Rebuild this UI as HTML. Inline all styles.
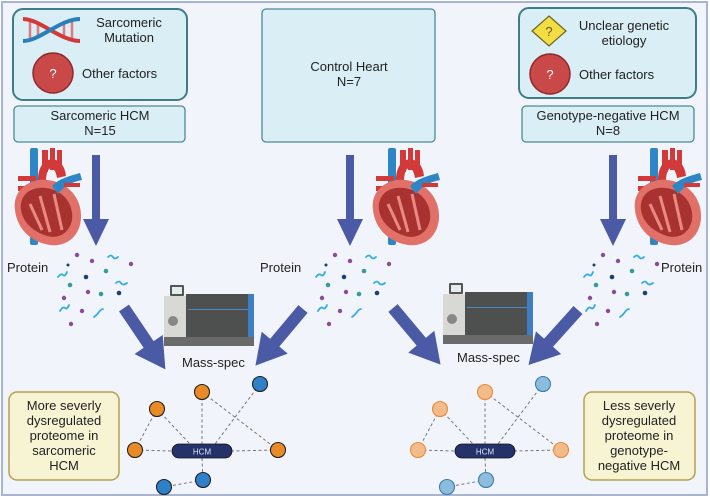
<!DOCTYPE html>
<html><head><meta charset="utf-8"><style>
html,body{margin:0;padding:0;background:#fff}
svg{display:block}
text{font-family:"Liberation Sans",sans-serif;fill:#222}
</style></head><body>
<svg width="710" height="498" viewBox="0 0 710 498" xmlns="http://www.w3.org/2000/svg">
<defs>
<g id="heart">
  <rect x="18" y="0" width="8" height="97" rx="2" fill="#2f86c7"/>
  <rect x="6" y="28" width="18" height="5" fill="#d23a3a"/>
  <rect x="6" y="38" width="18" height="5" fill="#d23a3a"/>
  <path d="M26 32 C26 5 52 5 54 28 L45 30 C43 16 34 16 34 34Z" fill="#d23a3a"/>
  <rect x="30" y="2" width="6" height="22" fill="#d23a3a"/>
  <rect x="38" y="0" width="5" height="22" fill="#d23a3a"/>
  <rect x="45" y="2" width="5" height="20" fill="#d23a3a"/>
  <path d="M3 62 C0 42 18 30 35 32 C56 34 70 50 69 70 C68 88 55 99 38 97 C18 94 5 80 3 62Z" fill="#e07068"/>
  <path d="M9 62 C7 46 20 38 34 40 C51 42 62 56 60 72 C57 86 46 91 35 88 C20 83 11 74 9 62Z" fill="#a8322f"/>
  <path d="M28 48 L38 84 M42 46 L50 82 M18 56 L30 82" stroke="#e88a80" stroke-width="3"/>
  <path d="M40 38 C48 30 58 28 68 25 L70 32 C60 34 52 38 46 46Z" fill="#2f86c7"/>
  <rect x="52" y="35" width="16" height="4" fill="#d23a3a"/>
</g>
<g id="prot">
  <g fill="#8a4b9a"><circle cx="19" cy="2" r="2.2"/><circle cx="34" cy="8" r="2.2"/><circle cx="73" cy="11" r="2.2"/><circle cx="30" cy="39" r="2.2"/><circle cx="6" cy="45" r="2.2"/><circle cx="24" cy="58" r="2.2"/><circle cx="13" cy="71" r="2.2"/></g>
  <g fill="#1e3f73"><circle cx="10" cy="12" r="1.5"/><circle cx="28" cy="24" r="2.3"/><circle cx="61" cy="40" r="2.3"/></g>
  <g fill="#3a9a9a"><circle cx="48" cy="18" r="2.3"/><circle cx="12" cy="32" r="2.3"/><circle cx="43" cy="41" r="2.3"/></g>
  <g fill="none" stroke="#33aee0" stroke-width="1.8" stroke-linecap="round">
    <path d="M50 4 q3 -3 5 0 t5 0"/><path d="M0 24 q3 -4 5 -2 t4 -3"/><path d="M58 30 q3 -3 5 0 t6 0"/><path d="M2 58 q3 -5 5 -3 t4 -3"/><path d="M36 64 q3 -2 5 -5 t4 -3"/>
  </g>
</g>
<g id="ms">
  <rect x="6" y="0" width="14" height="11" rx="1" fill="#555"/>
  <rect x="8" y="2" width="10" height="7" fill="#e5ecec"/>
  <rect x="0" y="11" width="24" height="46" fill="#d8d8d4"/>
  <circle cx="9" cy="36" r="5" fill="#888"/>
  <rect x="22" y="9" width="68" height="47" fill="#4e5050"/>
  <rect x="84" y="9" width="6" height="47" fill="#3d7fc2"/>
  <rect x="24" y="24" width="60" height="1" fill="#4a8ac0"/>
  <rect x="0" y="52" width="90" height="9" fill="#6a6a6a"/>
</g>
<g id="arrowV"><rect x="-4" y="0" width="8" height="66" fill="#4a5aa5"/><path d="M-13 64 L13 64 L0 91Z" fill="#4a5aa5"/></g>
<g id="arrowD"><rect x="-6" y="0" width="12" height="46" fill="#4a5aa5"/><path d="M-17 44 L17 44 L0 74Z" fill="#4a5aa5"/></g>
</defs>
<rect x="0" y="0" width="710" height="498" fill="#fff"/>
<rect x="2" y="2" width="705" height="493" fill="#f1f5fb" stroke="#a8b4d4" stroke-width="2"/>

<rect x="13" y="9" width="174" height="91" rx="10" fill="#d9eef5" stroke="#3f7c89" stroke-width="2"/>
<rect x="14" y="106" width="171" height="36" rx="4" fill="#d9eef5" stroke="#4b8a96" stroke-width="1.3"/>
<rect x="262" y="9" width="173" height="133" rx="4" fill="#d9eef5" stroke="#4b8a96" stroke-width="1.3"/>
<rect x="519" y="8" width="177" height="90" rx="10" fill="#d9eef5" stroke="#3f7c89" stroke-width="2"/>
<rect x="522" y="106" width="172" height="36" rx="4" fill="#d9eef5" stroke="#4b8a96" stroke-width="1.3"/>

<g stroke="#e07a80" stroke-width="2.5"><path d="M30 22 V38 M38 24 V36 M64 24 V36 M72 22 V38"/></g>
<path d="M23 19 C40 19 60 41 80 41" stroke="#d23a3a" stroke-width="4" fill="none"/>
<path d="M23 41 C40 41 60 19 80 19" stroke="#2b7fb8" stroke-width="4" fill="none"/>
<text x="129" y="27" font-size="13" text-anchor="middle">Sarcomeric</text>
<text x="129" y="42" font-size="13" text-anchor="middle">Mutation</text>
<circle cx="53" cy="73" r="20" fill="#c94848" stroke="#8f2a2a" stroke-width="1.5"/>
<text x="53" y="78" font-size="13" text-anchor="middle" style="fill:#fff">?</text>
<text x="82" y="78" font-size="13">Other factors</text>
<text x="100" y="120" font-size="13" text-anchor="middle">Sarcomeric HCM</text>
<text x="100" y="135" font-size="13" text-anchor="middle">N=15</text>
<text x="349" y="71" font-size="13" text-anchor="middle">Control Heart</text>
<text x="349" y="86" font-size="13" text-anchor="middle">N=7</text>
<path d="M549 16 L566 31 L549 46 L532 31Z" fill="#f2dd45" stroke="#6b6420" stroke-width="1.2"/>
<text x="549" y="36" font-size="13" text-anchor="middle" style="fill:#6b5a10">?</text>
<text x="624" y="30" font-size="13" text-anchor="middle">Unclear genetic</text>
<text x="624" y="45" font-size="13" text-anchor="middle">etiology</text>
<circle cx="550" cy="74" r="20" fill="#c94848" stroke="#8f2a2a" stroke-width="1.5"/>
<text x="550" y="79" font-size="13" text-anchor="middle" style="fill:#fff">?</text>
<text x="579" y="79" font-size="13">Other factors</text>
<text x="608" y="120" font-size="13" text-anchor="middle">Genotype-negative HCM</text>
<text x="608" y="135" font-size="13" text-anchor="middle">N=8</text>

<use href="#heart" transform="translate(12,148)"/>
<use href="#heart" transform="translate(370,148)"/>
<use href="#heart" transform="translate(632,148)"/>
<use href="#arrowV" transform="translate(96,155)"/>
<use href="#arrowV" transform="translate(350,155)"/>
<use href="#arrowV" transform="translate(613,155)"/>

<text x="7" y="272" font-size="13">Protein</text>
<use href="#prot" transform="translate(58,253)"/>
<text x="260" y="272" font-size="13">Protein</text>
<use href="#prot" transform="translate(316,253)"/>
<use href="#prot" transform="translate(584,253)"/>
<text x="661" y="272" font-size="13">Protein</text>

<use href="#ms" transform="translate(164,285)"/>
<use href="#ms" transform="translate(443,283)"/>
<text x="182" y="367" font-size="13">Mass-spec</text>
<text x="457" y="362" font-size="13">Mass-spec</text>

<use href="#arrowD" transform="translate(124,308) rotate(-34)"/>
<use href="#arrowD" transform="translate(303,309) rotate(40)"/>
<use href="#arrowD" transform="translate(393,308) rotate(-40)"/>
<use href="#arrowD" transform="translate(578,310) rotate(42)"/>

<g id="net">
  <g stroke="#777" stroke-width="1" stroke-dasharray="3,2.5" fill="none">
    <path d="M157 409 L190 444 M157 409 L135 450 M202 392 L202 444 M202 392 L278 450 M260 384 L215 444 M135 450 L172 451 M231 451 L278 450 M202 458 L203 480 M203 480 L164 487"/>
  </g>
  <rect x="172" y="444" width="60" height="14" rx="7" fill="#25326a" stroke="#111" stroke-width="0.8"/>
  <text x="202" y="454.5" font-size="8" text-anchor="middle" style="fill:#dfe4f2">HCM</text>
</g>
<g stroke="#222" stroke-width="1.1" fill="#ea8a26">
  <circle cx="202" cy="392" r="7.5"/><circle cx="157" cy="409" r="7.5"/><circle cx="135" cy="450" r="7.5"/><circle cx="278" cy="450" r="7.5"/>
</g>
<g stroke="#222" stroke-width="1.1" fill="#2f80c8">
  <circle cx="260" cy="384" r="7.5"/><circle cx="203" cy="480" r="7.5"/><circle cx="164" cy="487" r="7.5"/>
</g>
<use href="#net" transform="translate(283,0)"/>
<g stroke="#e88a3a" stroke-width="1.1" fill="#f4bb8a">
  <circle cx="485" cy="392" r="7.5"/><circle cx="440" cy="409" r="7.5"/><circle cx="418" cy="450" r="7.5"/><circle cx="561" cy="450" r="7.5"/>
</g>
<g stroke="#3b7ea8" stroke-width="1.1" fill="#8cbddf">
  <circle cx="543" cy="384" r="7.5"/><circle cx="486" cy="480" r="7.5"/><circle cx="447" cy="487" r="7.5"/>
</g>

<rect x="9" y="392" width="110" height="88" rx="8" fill="#f7f4d4" stroke="#b6a04e" stroke-width="1.5"/>
<g font-size="13" text-anchor="middle">
<text x="64" y="410">More severly</text><text x="64" y="425">dysregulated</text><text x="64" y="440">proteome in</text><text x="64" y="455">sarcomeric</text><text x="64" y="470">HCM</text>
</g>
<rect x="584" y="392" width="111" height="88" rx="8" fill="#f7f4d4" stroke="#b6a04e" stroke-width="1.5"/>
<g font-size="13" text-anchor="middle">
<text x="639" y="410">Less severly</text><text x="639" y="425">dysregulated</text><text x="639" y="440">proteome in</text><text x="639" y="455">genotype-</text><text x="639" y="470">negative HCM</text>
</g>
</svg>
</body></html>
